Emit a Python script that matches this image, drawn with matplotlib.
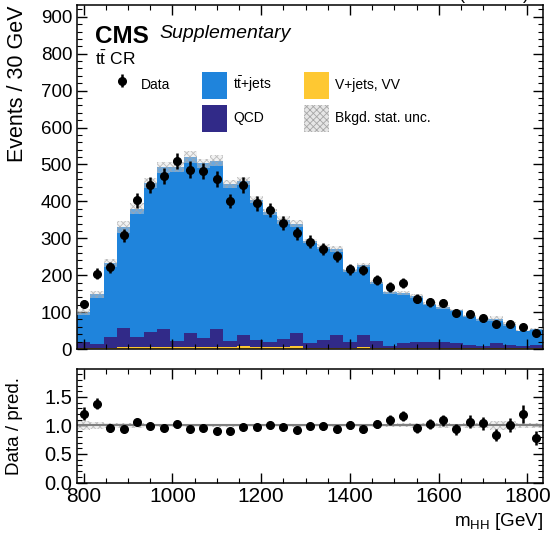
import numpy as np
import matplotlib
matplotlib.use("Agg")
import matplotlib.pyplot as plt
from matplotlib.patches import Patch, Rectangle
from matplotlib.ticker import MultipleLocator

plt.rcParams['font.family'] = ['Liberation Sans', 'DejaVu Sans']
plt.rcParams['mathtext.fontset'] = 'custom'
plt.rcParams['mathtext.rm'] = 'Liberation Sans'
plt.rcParams['mathtext.it'] = 'Liberation Sans:italic'
plt.rcParams['hatch.linewidth'] = 0.6

# ---- data ----
bin_low = 785
bin_width = 30
n_bins = 35

data = [122, 204, 222, 308, 403, 445, 469, 509, 486, 482, 460, 401, 444, 395, 377,
        341, 314, 291, 272, 251, 216, 214, 186, 168, 178, 136, 126, 124, 98, 95,
        83, 68, 68, 60, 42]
ttbar = [81, 135, 201, 272, 348, 405, 438, 471, 478, 474, 456, 426, 417, 381, 353,
         322, 297, 277, 253, 232, 194, 190, 159, 145, 135, 124, 104, 95, 90, 79,
         72, 67, 57, 42, 44]
qcd = [17, 9, 28, 53, 27, 40, 48, 17, 36, 24, 48, 17, 31, 19, 13,
       22, 36, 12, 20, 34, 15, 33, 19, 6, 14, 16, 16, 16, 13, 8,
       6, 12, 8, 6, 8]
vjets = [3, 4, 4, 5, 5, 5, 6, 5, 6, 5, 6, 5, 7, 5, 5,
         5, 7, 4, 4, 4, 4, 5, 4, 3, 3, 3, 3, 3, 2, 2,
         2, 3, 2, 2, 2]
mc_unc_rel = [0.085, 0.06, 0.05, 0.05, 0.04, 0.03, 0.03, 0.025, 0.03, 0.025, 0.03, 0.025,
              0.025, 0.025, 0.025, 0.03, 0.03, 0.02, 0.025, 0.03, 0.02, 0.025, 0.025,
              0.025, 0.035, 0.04, 0.035, 0.045, 0.03, 0.04, 0.04, 0.08, 0.08, 0.04, 0.05]

c_tt = '#1f84dc'
c_qcd = '#312a88'
c_vj = '#fec832'

edges = bin_low + bin_width * np.arange(n_bins + 1)
centers = 0.5 * (edges[:-1] + edges[1:])
data_a = np.array(data, float)
tt_a = np.array(ttbar, float)
qcd_a = np.array(qcd, float)
vj_a = np.array(vjets, float)
total = tt_a + qcd_a + vj_a
unc = np.array(mc_unc_rel) * total
data_err = np.sqrt(data_a)

fig = plt.figure(figsize=(5.52, 5.35), dpi=100)
ax = fig.add_axes([77/552, 1-349/535, 466/552, 344/535])
rax = fig.add_axes([77/552, 1-482.5/535, 466/552, 113.5/535])

# stacked histograms
ax.stairs(vj_a, edges, baseline=0, fill=True, color=c_vj, lw=0)
ax.stairs(vj_a + qcd_a, edges, baseline=vj_a, fill=True, color=c_qcd, lw=0)
ax.stairs(total, edges, baseline=vj_a + qcd_a, fill=True, color=c_tt, lw=0)
# uncertainty band
ax.fill_between(edges, np.r_[total - unc, (total - unc)[-1]], np.r_[total + unc, (total + unc)[-1]],
                step='post', facecolor=(0.88, 0.88, 0.88, 0.4), edgecolor=(0.65, 0.65, 0.65, 0.7),
                hatch='xxxxx', lw=0, zorder=3)
eb = ax.errorbar(centers, data_a, yerr=data_err, fmt='o', color='black', ms=5.5,
                 elinewidth=1.8, capsize=0, zorder=5)

ax.set_xlim(edges[0], edges[-1])
ax.set_ylim(0, 932)
ax.set_ylabel('Events / 30 GeV', loc='top', fontsize=15.5)
ax.yaxis.set_label_coords(-0.105, 1.0)

for a in (ax, rax):
    a.tick_params(which='both', direction='in', top=True, right=True, labelsize=13.5)
    a.tick_params(which='major', length=7, width=1)
    a.tick_params(which='minor', length=3.5, width=0.8)
    a.tick_params(axis='x', labelsize=15)
    a.xaxis.set_major_locator(MultipleLocator(200))
    a.xaxis.set_minor_locator(MultipleLocator(50))
    for s in a.spines.values():
        s.set_linewidth(1.1)
ax.yaxis.set_major_locator(MultipleLocator(100))
ax.yaxis.set_minor_locator(MultipleLocator(20))
ax.tick_params(labelbottom=False)

# texts
ax.text(0.038, 0.942, 'CMS', transform=ax.transAxes, fontsize=17.5, fontweight='bold', va='top', ha='left')
ax.text(0.178, 0.942, 'Supplementary', transform=ax.transAxes, fontsize=14, style='italic', va='top', ha='left')
ax.text(0.038, 0.871, r'$\mathrm{t\bar{t}}$ CR', transform=ax.transAxes, fontsize=12.5, va='top', ha='left')
fig.text(0.83, 1.0, r'138 fb$^{-1}$ (13 TeV)', fontsize=13, ha='center', va='baseline')

# legend
blank = Rectangle((0, 0), 1, 1, fc='none', ec='none')
h_tt = Patch(facecolor=c_tt, edgecolor='none')
h_qcd = Patch(facecolor=c_qcd, edgecolor='none')
h_vj = Patch(facecolor=c_vj, edgecolor='none')
h_unc = Patch(facecolor=(0.9, 0.9, 0.9), edgecolor=(0.65, 0.65, 0.65), hatch='xxxxx', lw=0)
ax.legend([eb, blank, h_tt, h_qcd, h_vj, h_unc],
          ['Data', '', r'$\mathrm{t\bar{t}}$+jets', 'QCD', 'V+jets, VV', 'Bkgd. stat. unc.'],
          ncol=3, loc='upper left', bbox_to_anchor=(0.070, 0.806), frameon=False,
          fontsize=10, handlelength=1.8, handleheight=2.6, handletextpad=0.45,
          labelspacing=0.45, columnspacing=2.3, borderpad=0, borderaxespad=0)

# ratio panel
ratio = data_a / total
ratio_err = data_err / total
rel = np.array(mc_unc_rel)
rax.fill_between(edges, np.r_[1 - rel, 1 - rel[-1]], np.r_[1 + rel, 1 + rel[-1]], step='post',
                 facecolor=(0.9, 0.9, 0.9, 0.6), edgecolor=(0.65, 0.65, 0.65, 0.7), hatch='xxxxx', lw=0)
rax.axhline(1.0, color='gray', lw=1.5)
rax.errorbar(centers, ratio, yerr=ratio_err, fmt='o', color='black', ms=5.5, elinewidth=1.8, capsize=0, zorder=5)
rax.set_xlim(edges[0], edges[-1])
rax.set_ylim(0, 1.99)
rax.yaxis.set_major_locator(MultipleLocator(0.5))
rax.yaxis.set_minor_locator(MultipleLocator(0.1))
rax.yaxis.set_major_formatter(matplotlib.ticker.FormatStrFormatter('%.1f'))
rax.tick_params(axis='y', labelsize=14.5)
rax.set_ylabel('Data / pred.', fontsize=13.5)
rax.yaxis.set_label_coords(-0.115, 0.5)
rax.set_xlabel(r'm$_{\mathrm{HH}}$ [GeV]', loc='right', fontsize=13.5)
rax.xaxis.set_label_coords(1.0, -0.255)

fig.savefig('out.png', dpi=100)
